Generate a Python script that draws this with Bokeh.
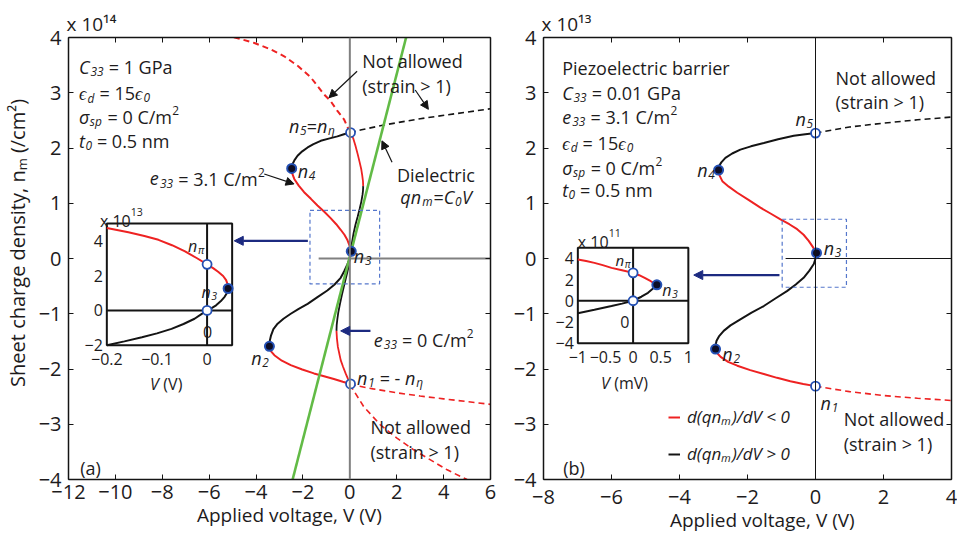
import math
from bokeh.plotting import figure
from bokeh.layouts import row
from bokeh.models import (Range1d, LinearAxis, FixedTicker, Label, Arrow, NormalHead,
                          Legend, LegendItem, Span)
from bokeh.embed import file_html
from bokeh.resources import INLINE

# ======================= DATA =======================
# Panel (a): V in volts, n in units of 1e14 cm^-2
a_bk1_v = [0.03, -0.25, -0.53, -0.90, -1.24, -1.55, -1.80, -2.03, -2.23, -2.36, -2.44, -2.48]
a_bk1_n = [2.28, 2.25, 2.21, 2.17, 2.13, 2.07, 2.01, 1.94, 1.86, 1.78, 1.71, 1.63]
a_rd1_v = [-2.48, -2.45, -2.37, -2.18, -1.95, -1.66, -1.38, -1.10, -0.82, -0.58, -0.39, -0.23, -0.11, -0.02, 0.04, 0.06]
a_rd1_n = [1.63, 1.53, 1.44, 1.32, 1.20, 1.08, 0.96, 0.85, 0.73, 0.62, 0.52, 0.43, 0.34, 0.24, 0.17, 0.13]
a_bk2_v = [0.06, 0.00, -0.11, -0.24, -0.39, -0.65, -0.96, -1.38, -1.80, -2.18, -2.52, -2.83, -3.08, -3.26, -3.36, -3.42, -3.43]
a_bk2_n = [0.13, 0.00, -0.11, -0.23, -0.35, -0.47, -0.58, -0.70, -0.82, -0.91, -1.00, -1.09, -1.18, -1.28, -1.39, -1.50, -1.59]
a_rd2_v = [-3.43, -3.36, -3.22, -2.90, -2.52, -2.03, -1.53, -1.10, -0.68, -0.30, 0.03]
a_rd2_n = [-1.59, -1.68, -1.75, -1.85, -1.93, -2.01, -2.08, -2.13, -2.18, -2.23, -2.27]
# e33 = 0 curve
a_z_rd1_v = [0.03, 0.14, 0.24, 0.34, 0.42, 0.49, 0.53, 0.56, 0.57]
a_z_rd1_n = [2.28, 2.18, 2.04, 1.88, 1.74, 1.61, 1.50, 1.40, 1.31]
a_z_bk_v = [0.57, 0.56, 0.54, 0.49, 0.42, 0.33, 0.24, 0.16, 0.10, 0.04, 0.00, -0.08, -0.17, -0.25, -0.34, -0.42, -0.49, -0.53, -0.56, -0.57]
a_z_bk_n = [1.31, 1.22, 1.15, 1.03, 0.90, 0.75, 0.61, 0.46, 0.31, 0.14, 0.00, -0.20, -0.36, -0.50, -0.66, -0.82, -0.97, -1.09, -1.20, -1.31]
a_z_rd2_v = [-0.57, -0.55, -0.51, -0.45, -0.39, -0.29, -0.18, -0.08, 0.03]
a_z_rd2_n = [-1.31, -1.45, -1.60, -1.72, -1.84, -1.96, -2.08, -2.18, -2.27]
# "not allowed" dashed branches
a_dr_up_v = [0.0, -0.12, -0.25, -0.53, -0.82, -1.10, -1.67, -2.20, -2.80, -3.40, -4.07, -5.06]
a_dr_up_n = [2.28, 2.40, 2.52, 2.67, 2.85, 2.97, 3.28, 3.48, 3.66, 3.79, 3.90, 4.02]
a_dk_up_v = [0.0, 0.5, 1.5, 3.0, 4.5, 6.0]
a_dk_up_n = [2.28, 2.33, 2.42, 2.53, 2.62, 2.71]
a_dr_lo1_v = [0.0, 1.0, 2.0, 3.0, 4.0, 5.0, 6.0]
a_dr_lo1_n = [-2.28, -2.36, -2.43, -2.49, -2.54, -2.59, -2.64]
a_dr_lo2_v = [0.0, 0.59, 1.30, 2.01, 2.71, 3.42, 4.13, 4.84, 5.0]
a_dr_lo2_n = [-2.28, -2.68, -3.01, -3.25, -3.46, -3.64, -3.82, -3.97, -4.0]
# dielectric line qn = C0 V
a_diel_v = [-2.44, 2.40]
a_diel_n = [-4.0, 4.0]
# stationary points
a_open_v = [0.03, 0.03]
a_open_n = [2.28, -2.27]
a_fill_v = [-2.48, 0.06, -3.43]
a_fill_n = [1.63, 0.13, -1.59]

# Inset (a): V in volts, n in 1e13 cm^-2
ia_rd_v = [-0.2, -0.157, -0.125, -0.097, -0.07, -0.044, -0.02, 0.0, 0.012, 0.022, 0.032, 0.038, 0.041, 0.042]
ia_rd_n = [4.74, 4.49, 4.28, 4.06, 3.75, 3.39, 3.0, 2.65, 2.43, 2.22, 1.98, 1.74, 1.5, 1.26]
ia_bk_v = [0.042, 0.04, 0.035, 0.027, 0.018, 0.009, 0.0, -0.012, -0.025, -0.047, -0.071, -0.1, -0.13, -0.165, -0.2]
ia_bk_n = [1.26, 1.02, 0.78, 0.52, 0.29, 0.13, 0.0, -0.23, -0.48, -0.78, -1.06, -1.32, -1.54, -1.78, -2.0]
ia_open_v = [0.0, 0.0]
ia_open_n = [2.65, 0.0]
ia_fill_v = [0.042]
ia_fill_n = [1.26]

# Panel (b): V in volts, n in 1e13 cm^-2
b_bk1_v = [0.0, -0.30, -0.64, -1.10, -1.52, -1.90, -2.21, -2.45, -2.65, -2.77, -2.84, -2.85]
b_bk1_n = [2.27, 2.25, 2.22, 2.16, 2.09, 2.03, 1.97, 1.90, 1.82, 1.74, 1.67, 1.60]
b_rd1_v = [-2.85, -2.82, -2.74, -2.55, -2.30, -1.97, -1.62, -1.31, -1.03, -0.77, -0.54, -0.35, -0.20, -0.08, 0.03]
b_rd1_n = [1.60, 1.50, 1.40, 1.30, 1.19, 1.06, 0.92, 0.81, 0.71, 0.62, 0.53, 0.43, 0.32, 0.21, 0.10]
b_bk2_v = [0.03, 0.0, -0.05, -0.18, -0.35, -0.58, -0.84, -1.17, -1.52, -1.88, -2.21, -2.50, -2.70, -2.84, -2.91, -2.94, -2.94]
b_bk2_n = [0.10, 0.0, -0.10, -0.22, -0.35, -0.47, -0.59, -0.72, -0.86, -0.98, -1.10, -1.21, -1.31, -1.41, -1.49, -1.57, -1.64]
b_rd2_v = [-2.94, -2.88, -2.79, -2.57, -2.30, -1.92, -1.52, -1.13, -0.74, -0.36, 0.0]
b_rd2_n = [-1.64, -1.72, -1.78, -1.87, -1.94, -2.02, -2.09, -2.16, -2.22, -2.27, -2.31]
b_dk_up_v = [0.0, 1.0, 2.0, 3.0, 4.0]
b_dk_up_n = [2.27, 2.38, 2.45, 2.51, 2.56]
b_dr_lo_v = [0.0, 1.0, 2.0, 3.0, 4.0]
b_dr_lo_n = [-2.31, -2.41, -2.48, -2.53, -2.57]
b_open_v = [0.0, 0.0]
b_open_n = [2.27, -2.31]
b_fill_v = [-2.85, 0.03, -2.94]
b_fill_n = [1.60, 0.10, -1.64]

# Inset (b): V in mV, n in 1e11 cm^-2
ib_rd_v = [-1.0, -0.85, -0.70, -0.55, -0.39, -0.2, 0.0, 0.11, 0.21, 0.32, 0.43]
ib_rd_n = [3.89, 3.74, 3.57, 3.36, 3.10, 2.88, 2.63, 2.41, 2.16, 1.84, 1.50]
ib_bk_v = [0.43, 0.35, 0.27, 0.15, 0.0, -0.2, -0.39, -0.7, -1.0]
ib_bk_n = [1.50, 1.10, 0.75, 0.38, 0.0, -0.27, -0.50, -0.85, -1.18]
ib_open_v = [0.0, 0.0]
ib_open_n = [2.63, 0.0]
ib_fill_v = [0.43]
ib_fill_n = [1.50]

# Ticks
a_xticks = [-12, -10, -8, -6, -4, -2, 0, 2, 4, 6]
a_xlabels = ["−12", "−10", "−8", "−6", "−4", "−2", "0", "2", "4", "6"]
b_xticks = [-8, -6, -4, -2, 0, 2, 4]
b_xlabels = ["−8", "−6", "−4", "−2", "0", "2", "4"]
yticks = [-4, -3, -2, -1, 0, 1, 2, 3, 4]
ylabels = ["−4", "−3", "−2", "−1", "0", "1", "2", "3", "4"]
ia_xticks = [-0.2, -0.1, 0.0]
ia_xlabels = ["−0.2", "−0.1", "0"]
ia_yticks = [-2, 0, 2, 4]
ia_ylabels = ["−2", "0", "2", "4"]
ib_xticks = [-1.0, -0.5, 0.0, 0.5, 1.0]
ib_xlabels = ["−1", "−0.5", "0", "0.5", "1"]
ib_yticks = [-4, -2, 0, 2, 4]
ib_ylabels = ["−4", "−2", "0", "2", "4"]

# ======================= STYLE =======================
FONT = "Open Sans"
TXT = "#1d1b1c"
RED = "#ee2222"
BLK = "#141414"
GRN = "#62bb46"
NAVY = "#1c2a80"
MBLUE = "#2450b4"
DBLUE = "#5577cc"
NB = "\u00a0"

CW = {' ': 0.26, '0': 0.572, '1': 0.572, '2': 0.572, '3': 0.572, '4': 0.572, '5': 0.572,
      '6': 0.572, '7': 0.572, '8': 0.572, '9': 0.572, '=': 0.572, '<': 0.572, '>': 0.572,
      '.': 0.266, ',': 0.245, '(': 0.296, ')': 0.296, '/': 0.367, '-': 0.322, '−': 0.572,
      'a': 0.556, 'b': 0.613, 'c': 0.476, 'd': 0.613, 'e': 0.561, 'f': 0.336, 'g': 0.548,
      'h': 0.615, 'i': 0.258, 'k': 0.539, 'l': 0.258, 'm': 0.935, 'n': 0.615, 'o': 0.601,
      'p': 0.613, 'q': 0.613, 'r': 0.409, 's': 0.477, 't': 0.353, 'u': 0.615, 'v': 0.499,
      'w': 0.793, 'x': 0.522, 'y': 0.502, 'z': 0.465, 'A': 0.633, 'C': 0.631, 'D': 0.729,
      'G': 0.726, 'N': 0.753, 'P': 0.603, 'S': 0.549, 'V': 0.577, 'ϵ': 0.47, 'σ': 0.6,
      'η': 0.615, 'π': 0.65}
SHIFT = {"r": 0.0, "i": 0.0, "sub": -0.25, "isub": -0.25, "sup": 0.36, "SUP": 0.6}


def tw(s, fs):
    return sum(CW.get(c, 0.56) for c in s) * fs


def rich(p, x, y, segs, size=18, color=TXT, align="left"):
    """Compose text from segments (normal / italic / sub / sup) as separate labels."""
    pieces = []
    adv = 0.0
    for t, st in segs:
        small = st in ("sub", "isub", "sup", "SUP")
        fs = size * 0.66 if small else size
        lead = len(t) - len(t.lstrip(" "))
        pieces.append((t.strip(" "), fs, st in ("i", "isub"), SHIFT[st] * size,
                       adv + tw(" " * lead, fs)))
        adv += tw(t, fs)
    start = -adv / 2 if align == "center" else 0.0
    for t, fs, it, sh, a in pieces:
        p.add_layout(Label(x=x, y=y, text=t, x_offset=start + a, y_offset=-0.357 * size + sh,
                           text_font=FONT, text_font_size=f"{fs:.1f}px",
                           text_font_style="italic" if it else "normal",
                           text_color=color, text_align="left", text_baseline="alphabetic"))


def arrow(p, x0, y0, x1, y1, color=BLK, lw=1.2, size=8):
    p.add_layout(Arrow(end=NormalHead(size=size, fill_color=color, line_color=color, line_width=1),
                       x_start=x0, y_start=y0, x_end=x1, y_end=y1,
                       line_color=color, line_width=lw))


def make_panel(xr, width, bl, br, bt, bb, xt, xl, title):
    p = figure(width=width, height=538, x_range=Range1d(*xr), y_range=Range1d(-4, 4),
               output_backend="svg", toolbar_location=None, title=title,
               min_border_left=bl, min_border_right=br, min_border_top=bt, min_border_bottom=bb)
    p.title.text_font = FONT
    p.title.text_font_size = "19px"
    p.title.text_font_style = "normal"
    p.title.text_color = TXT
    p.title.align = "left"
    p.title.offset = -2
    p.title.standoff = 2
    p.grid.visible = False
    p.outline_line_color = None
    p.background_fill_color = "white"
    p.border_fill_color = "white"
    bx = p.below[0]
    ly = p.left[0]
    for ax, ticks, labels in ((bx, xt, xl), (ly, yticks, ylabels)):
        ax.ticker = FixedTicker(ticks=ticks)
        ax.major_label_overrides = {t: l for t, l in zip(ticks, labels)}
        ax.major_label_text_font = FONT
        ax.major_label_text_font_size = "20px"
        ax.major_label_text_color = TXT
        ax.axis_label_text_font = FONT
        ax.axis_label_text_font_size = "19px"
        ax.axis_label_text_font_style = "normal"
        ax.axis_label_text_color = TXT
    ly.major_label_standoff = 7
    top = LinearAxis(ticker=FixedTicker(ticks=xt), major_label_overrides={t: "" for t in xt})
    rgt = LinearAxis(ticker=FixedTicker(ticks=yticks), major_label_overrides={t: "" for t in yticks})
    p.add_layout(top, "above")
    p.add_layout(rgt, "right")
    for ax in (top, rgt):
        ax.major_label_text_font_size = "1px"
        ax.major_label_standoff = 0
    for ax in (bx, ly, top, rgt):
        ax.axis_line_width = 1.5
        ax.axis_line_color = BLK
        ax.major_tick_in = 5
        ax.major_tick_out = 0
        ax.major_tick_line_color = BLK
        ax.major_tick_line_width = 1
        ax.minor_tick_in = 0
        ax.minor_tick_out = 0
    return p, bx, ly


def mapper(sx, sy, tx, ty):
    def f(x, y):
        return (tx[0] + (x - sx[0]) / (sx[1] - sx[0]) * (tx[1] - tx[0]),
                ty[0] + (y - sy[0]) / (sy[1] - sy[0]) * (ty[1] - ty[0]))
    return f


def draw_inset(p, sx, sy, tx, ty, rd_v, rd_n, bk_v, bk_n, op_v, op_n, fl_v, fl_n,
               xt, xl, yt, yl):
    s = p.subplot(x_source=Range1d(*sx), y_source=Range1d(*sy),
                  x_target=Range1d(*tx), y_target=Range1d(*ty))
    s.quad(left=[sx[0]], right=[sx[1]], bottom=[sy[0]], top=[sy[1]],
           fill_color="white", line_color=BLK, line_width=2)
    s.segment(x0=[0], y0=[sy[0]], x1=[0], y1=[sy[1]], line_color=BLK, line_width=2)
    s.segment(x0=[sx[0]], y0=[0], x1=[sx[1]], y1=[0], line_color=BLK, line_width=2)
    s.line(rd_v, rd_n, line_color=RED, line_width=2)
    s.line(bk_v, bk_n, line_color=BLK, line_width=2)
    s.scatter(op_v, op_n, size=9, fill_color="white", line_color=MBLUE, line_width=1.8)
    s.scatter(fl_v, fl_n, size=9, fill_color="#0d0d25", line_color=MBLUE, line_width=2)
    m = mapper(sx, sy, tx, ty)
    for t, l in zip(xt, xl):
        x, y = m(t, sy[0])
        p.add_layout(Label(x=x, y=y, text=l, y_offset=-14, text_align="center",
                           text_baseline="middle", text_font=FONT, text_font_size="16px",
                           text_color=TXT))
    for t, l in zip(yt, yl):
        x, y = m(sx[0], t)
        p.add_layout(Label(x=x, y=y, text=l, x_offset=-4, text_align="right",
                           text_baseline="middle", text_font=FONT, text_font_size="16px",
                           text_color=TXT))


def dots(p, ov, on, fv, fn):
    p.scatter(ov, on, size=9, fill_color="white", line_color=MBLUE, line_width=1.8)
    p.scatter(fv, fn, size=9, fill_color="#0d0d25", line_color=MBLUE, line_width=2)


# ======================= PANEL (a) =======================
pa, pa_x, pa_y = make_panel((-12, 6), 500, 66, 10, 37, 54, a_xticks, a_xlabels, "x 10¹⁴")
pa_x.axis_label = NB * 4 + "Applied voltage, V (V)"
pa_x.major_label_standoff = 5
pa_x.axis_label_standoff = 0
pa_y.axis_label = NB * 6 + "Sheet charge density, nₘ (/cm²)"
pa_y.axis_label_text_font_size = "20px"
pa_y.axis_label_standoff = 5

pa.add_layout(Span(location=0, dimension="height", line_color="#808080", line_width=2))
pa.segment(x0=[-1.33], y0=[0], x1=[6], y1=[0], line_color="#808080", line_width=2)

pa.line(a_dr_up_v, a_dr_up_n, line_color=RED, line_width=2, line_dash="6 4")
pa.line(a_dk_up_v, a_dk_up_n, line_color=BLK, line_width=1.6, line_dash="6 4")
pa.line(a_dr_lo1_v, a_dr_lo1_n, line_color=RED, line_width=1.6, line_dash="6 4")
pa.line(a_dr_lo2_v, a_dr_lo2_n, line_color=RED, line_width=1.6, line_dash="6 4")
pa.line(a_z_rd1_v, a_z_rd1_n, line_color=RED, line_width=1.8)
pa.line(a_z_bk_v, a_z_bk_n, line_color=BLK, line_width=1.8)
pa.line(a_z_rd2_v, a_z_rd2_n, line_color=RED, line_width=1.8)
pa.line(a_bk1_v, a_bk1_n, line_color=BLK, line_width=2)
pa.line(a_rd1_v, a_rd1_n, line_color=RED, line_width=2)
pa.line(a_bk2_v, a_bk2_n, line_color=BLK, line_width=2)
pa.line(a_rd2_v, a_rd2_n, line_color=RED, line_width=2)
pa.line(a_diel_v, a_diel_n, line_color=GRN, line_width=2.6)
pa.quad(left=[-1.70], right=[1.27], bottom=[-0.46], top=[0.87], fill_color=None,
        line_color=DBLUE, line_width=1.2, line_dash="4 3")
dots(pa, a_open_v, a_open_n, a_fill_v, a_fill_n)

draw_inset(pa, (-0.2, 0.05), (-2, 5), (-10.365, -5.02), (-1.569, 0.634),
           ia_rd_v, ia_rd_n, ia_bk_v, ia_bk_n, ia_open_v, ia_open_n, ia_fill_v, ia_fill_n,
           ia_xticks, ia_xlabels, ia_yticks, ia_ylabels)

# arrows
arrow(pa, -1.79, 0.32, -4.93, 0.32, color=NAVY, lw=2.2, size=9)
arrow(pa, 0.88, -1.31, -0.39, -1.31, color=NAVY, lw=2.2, size=9)
arrow(pa, 0.31, 3.39, -0.89, 2.91)
arrow(pa, 2.79, 3.05, 3.35, 2.70)
arrow(pa, 1.80, 1.74, 1.37, 2.13)
arrow(pa, -3.65, 1.53, -2.38, 1.35)

# texts (a)
rich(pa, -11.55, 3.58, [("C", "i"), ("33", "isub"), (" = 1 GPa", "r")])
rich(pa, -11.55, 3.11, [("ϵ", "i"), ("d", "isub"), (" = 15", "r"), ("ϵ", "i"), ("0", "isub")])
rich(pa, -11.55, 2.68, [("σ", "i"), ("sp", "isub"), (" = 0 C/m", "r"), ("2", "sup")])
rich(pa, -11.55, 2.25, [("t", "i"), ("0", "isub"), (" = 0.5 nm", "r")])
rich(pa, 0.53, 3.69, [("Not allowed", "r")])
rich(pa, 0.53, 3.24, [("(strain > 1)", "r")])
rich(pa, -2.60, 2.52, [("n", "i"), ("5", "isub"), ("=", "r"), ("n", "i"), ("η", "isub")])
rich(pa, -2.22, 1.70, [("n", "i"), ("4", "isub")])
rich(pa, 0.17, 0.17, [("n", "i"), ("3", "isub")])
rich(pa, -4.21, -1.68, [("n", "i"), ("2", "isub")])
rich(pa, 0.31, -2.04, [("n", "i"), ("1", "isub"), (" = - ", "r"), ("n", "i"), ("η", "isub")])
rich(pa, -8.53, 1.56, [("e", "i"), ("33", "isub"), (" = 3.1 C/m", "r"), ("2", "sup")])
rich(pa, 2.01, 1.62, [("Dielectric", "r")])
rich(pa, 2.15, 1.23, [("qn", "i"), ("m", "isub"), ("=", "r"), ("C", "i"), ("0", "isub"), ("V", "i")])
rich(pa, 1.02, -1.36, [("e", "i"), ("33", "isub"), (" = 0 C/m", "r"), ("2", "sup")])
rich(pa, 0.88, -2.94, [("Not allowed", "r")])
rich(pa, 0.88, -3.39, [("(strain > 1)", "r")])
rich(pa, -11.5, -3.68, [("(a)", "r")])
# inset (a) texts
rich(pa, -6.90, 0.325, [("n", "i"), ("π", "isub")], size=16)
rich(pa, -6.33, -0.51, [("n", "i"), ("3", "isub")], size=16)
rich(pa, -6.26, -1.22, [("0", "r")], size=16)
rich(pa, -10.66, 0.777, [("x 10", "r"), ("13", "SUP")], size=16)
rich(pa, -7.84, -2.17, [("V", "i"), (" (V)", "r")], size=16, align="center")

# ======================= PANEL (b) =======================
pb, pb_x, pb_y = make_panel((-8, 4), 457, 43, 6, 36, 59, b_xticks, b_xlabels, "x 10¹³")
pb_x.axis_label = NB * 6 + "Applied voltage, V (V)"
pb_x.major_label_standoff = 10
pb_x.axis_label_standoff = 0

pb.add_layout(Span(location=0, dimension="height", line_color=BLK, line_width=1))
pb.segment(x0=[-0.88], y0=[0], x1=[4], y1=[0], line_color=BLK, line_width=1)

pb.line(b_dk_up_v, b_dk_up_n, line_color=BLK, line_width=1.6, line_dash="6 4")
pb.line(b_dr_lo_v, b_dr_lo_n, line_color=RED, line_width=1.6, line_dash="6 4")
pb.line(b_bk1_v, b_bk1_n, line_color=BLK, line_width=2)
r_red = pb.line(b_rd1_v, b_rd1_n, line_color=RED, line_width=2)
r_blk = pb.line(b_bk2_v, b_bk2_n, line_color=BLK, line_width=2)
pb.line(b_rd2_v, b_rd2_n, line_color=RED, line_width=2)
pb.quad(left=[-0.98], right=[0.91], bottom=[-0.52], top=[0.71], fill_color=None,
        line_color=DBLUE, line_width=1.2, line_dash="4 3")
dots(pb, b_open_v, b_open_n, b_fill_v, b_fill_n)

draw_inset(pb, (-1, 1), (-4, 5), (-6.99, -3.74), (-1.533, 0.195),
           ib_rd_v, ib_rd_n, ib_bk_v, ib_bk_n, ib_open_v, ib_open_n, ib_fill_v, ib_fill_n,
           ib_xticks, ib_xlabels, ib_yticks, ib_ylabels)

arrow(pb, -1.06, -0.30, -3.58, -0.30, color=NAVY, lw=2.2, size=9)

rich(pb, -7.45, 3.57, [("Piezoelectric barrier", "r")])
rich(pb, -7.45, 3.12, [("C", "i"), ("33", "isub"), (" = 0.01 GPa", "r")])
rich(pb, -7.45, 2.67, [("e", "i"), ("33", "isub"), (" = 3.1 C/m", "r"), ("2", "sup")])
rich(pb, -7.45, 2.21, [("ϵ", "i"), ("d", "isub"), (" = 15", "r"), ("ϵ", "i"), ("0", "isub")])
rich(pb, -7.45, 1.76, [("σ", "i"), ("sp", "isub"), (" = 0 C/m", "r"), ("2", "sup")])
rich(pb, -7.45, 1.35, [("t", "i"), ("0", "isub"), (" = 0.5 nm", "r")])
rich(pb, 0.59, 3.39, [("Not allowed", "r")])
rich(pb, 0.59, 2.94, [("(strain > 1)", "r")])
rich(pb, -0.59, 2.64, [("n", "i"), ("5", "isub")])
rich(pb, -3.48, 1.72, [("n", "i"), ("4", "isub")])
rich(pb, 0.24, 0.31, [("n", "i"), ("3", "isub")])
rich(pb, -2.74, -1.62, [("n", "i"), ("2", "isub")])
rich(pb, 0.15, -2.50, [("n", "i"), ("1", "isub")])
rich(pb, 0.83, -2.79, [("Not allowed", "r")])
rich(pb, 0.83, -3.24, [("(strain > 1)", "r")])
rich(pb, -7.42, -3.68, [("(b)", "r")])
rich(pb, -5.88, 0.07, [("n", "i"), ("π", "isub")], size=15)
rich(pb, -4.51, -0.47, [("n", "i"), ("3", "isub")], size=16)
rich(pb, -5.74, -1.04, [("0", "r")], size=16)
rich(pb, -6.99, 0.40, [("x 10", "r"), ("11", "SUP")], size=16)
rich(pb, -5.62, -2.15, [("V", "i"), (" (mV)", "r")], size=16, align="center")

legend = Legend(items=[LegendItem(label="d(qnₘ)/dV < 0", renderers=[r_red]),
                       LegendItem(label="d(qnₘ)/dV > 0", renderers=[r_blk])],
                location=(125, 14), label_text_font=FONT, label_text_font_size="17px",
                label_text_font_style="italic", label_text_color=TXT,
                glyph_width=12, glyph_height=20, label_height=20, spacing=14,
                padding=0, margin=0, border_line_color=None, background_fill_alpha=0,
                label_standoff=7)
pb.add_layout(legend)

layout = row(pa, pb, spacing=0)
open("out.html", "w").write(file_html(layout, INLINE, "Sheet charge density"))
